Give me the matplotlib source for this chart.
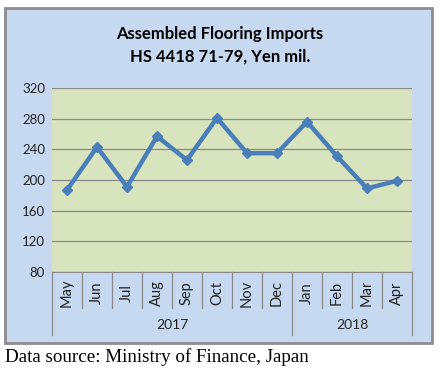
import matplotlib.pyplot as plt
from matplotlib.patches import Rectangle

months = ["May", "Jun", "Jul", "Aug", "Sep", "Oct", "Nov", "Dec",
          "Jan", "Feb", "Mar", "Apr"]
values = [187, 243, 191, 257, 226, 281, 235, 235, 276, 231, 189, 199]
years = ["2017", "2018"]
year_counts = [8, 4]
yticks = [80, 120, 160, 200, 240, 280, 320]

W, H = 447, 374
fig = plt.figure(figsize=(W / 100, H / 100), dpi=100)
fig.patch.set_facecolor("white")

# chart box
fig.patches.append(Rectangle((5 / W, 1 - 343 / H), 427 / W, 335 / H,
                             transform=fig.transFigure, facecolor="#c6d9f1",
                             edgecolor="#8c8c8c", linewidth=2, zorder=-1))

ax = fig.add_axes([52 / W, 1 - 272 / H, 360 / W, 184 / H])
ax.set_facecolor("#d7e4bd")
ax.plot(range(len(months)), values, color="#4a7ebb", lw=3.2, marker="D",
        ms=5, zorder=3)

ax.set_xlim(-0.5, len(months) - 0.5)
ax.set_ylim(80, 320)
ax.set_yticks(yticks)
ax.set_yticklabels([str(v) for v in yticks], fontsize=9.5, family="Lato",
                   color="#222222")
ax.tick_params(axis="y", length=0, pad=5)
ax.set_xticks([])
ax.grid(axis="y", color="#8a8a8a", lw=0.9)
ax.set_axisbelow(True)
for s in ["left", "top", "right"]:
    ax.spines[s].set_visible(False)
ax.spines["bottom"].set_color("#8a8a8a")

tr = ax.get_xaxis_transform()
# month labels and separators
for i, m in enumerate(months):
    ax.text(i, -0.114, m, transform=tr, rotation=90, ha="center",
            va="center", fontsize=10.5, family="Lato", color="#222222")
bounds = [-0.5]
for c in year_counts:
    bounds.append(bounds[-1] + c)
for i in range(len(months) + 1):
    x = i - 0.5
    low = -0.342 if x in bounds else -0.196
    ax.plot([x, x], [0, low], transform=tr, color="#8a8a8a", lw=0.9,
            clip_on=False)
for y, a, b in zip(years, bounds[:-1], bounds[1:]):
    ax.text((a + b) / 2, -0.288, y, transform=tr, ha="center", va="center",
            fontsize=10, family="Lato", color="#222222")

fig.text(220 / W, 1 - 34 / H, "Assembled Flooring Imports", ha="center",
         va="center", fontsize=12, family="Lato", weight="bold")
fig.text(220 / W, 1 - 57 / H, "HS 4418 71-79, Yen mil.", ha="center",
         va="center", fontsize=12, family="Lato", weight="bold")

fig.text(5 / W, 1 - 357 / H, "Data source: Ministry of Finance, Japan",
         ha="left", va="center", fontsize=13.7, family="Liberation Serif")

fig.savefig("out.png", dpi=100)
